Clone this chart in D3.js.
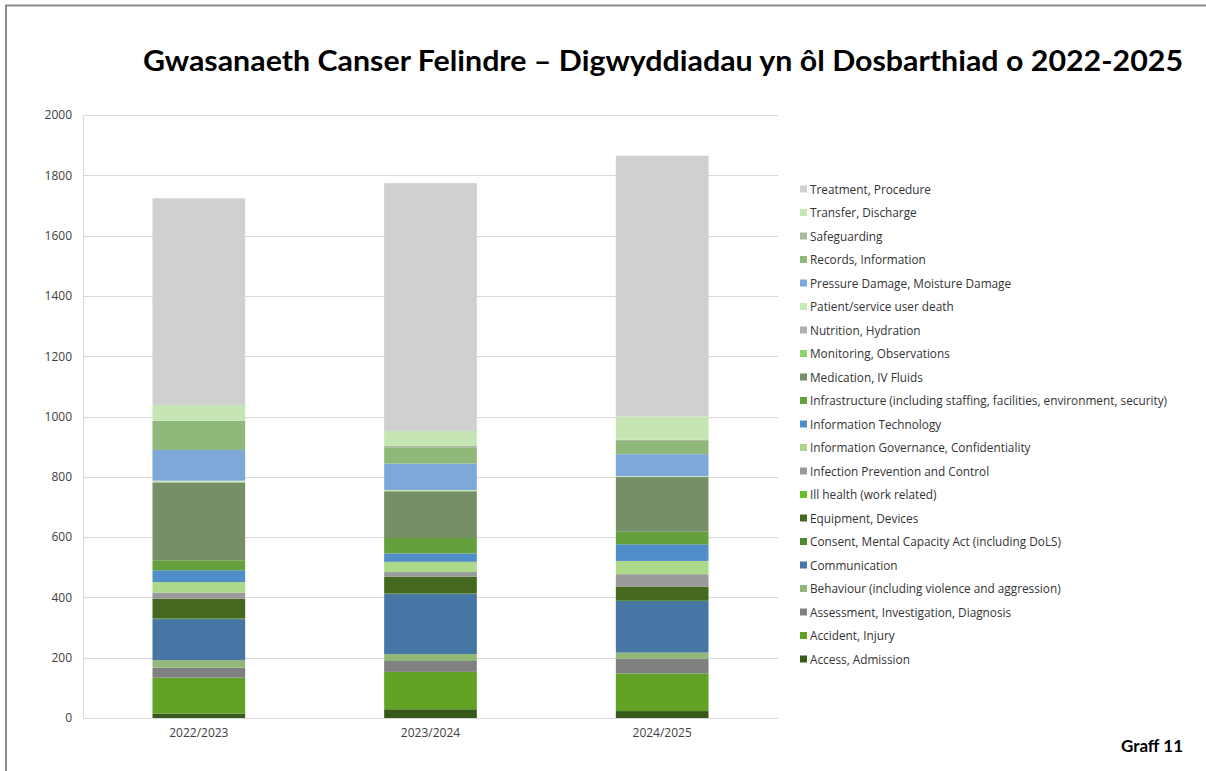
<!DOCTYPE html>
<html>
<head>
<meta charset="utf-8">
<script src="https://cdn.jsdelivr.net/npm/d3@7"></script>
<style>
  body { margin: 0; background: #fff; }
  svg { display: block; }
</style>
</head>
<body>
<div id="chart"></div>
<script>
// chart data
var years = ["2022/2023", "2023/2024", "2024/2025"];

// series, bottom of the stack first
var seriesNames = [
    "Access, Admission",
    "Accident, Injury",
    "Assessment, Investigation, Diagnosis",
    "Behaviour (including violence and aggression)",
    "Communication",
    "Consent, Mental Capacity Act (including DoLS)",
    "Equipment, Devices",
    "Ill health (work related)",
    "Infection Prevention and Control",
    "Information Governance, Confidentiality",
    "Information Technology",
    "Infrastructure (including staffing, facilities, environment, security)",
    "Medication, IV Fluids",
    "Monitoring, Observations",
    "Nutrition, Hydration",
    "Patient/service user death",
    "Pressure Damage, Moisture Damage",
    "Records, Information",
    "Safeguarding",
    "Transfer, Discharge",
    "Treatment, Procedure"
];

var seriesColors = [
    "#375a1a", "#62a224", "#808080", "#92b878", "#4676a3", "#4e8a32",
    "#44691e", "#6ac02a", "#9a9a9a", "#acd88a", "#4f8ec8", "#64a03c",
    "#768f66", "#8ed46a", "#b0b0b0", "#c6ebb6", "#7ea8d8", "#8fb87a",
    "#a9b8a0", "#c5e6b3", "#d0d0d0"
];

// values per year, same order as seriesNames
var values2022 = [15, 119, 33, 25, 136, 2, 66, 0, 20, 35, 39, 33, 258, 1, 1, 4, 102, 97, 0, 52, 686];
var values2023 = [29, 124, 36, 23, 199, 2, 56, 0, 15, 34, 28, 51, 155, 1, 0, 3, 88, 52, 6, 50, 822];
var values2024 = [23, 125, 49, 20, 171, 3, 45, 0, 41, 44, 55, 42, 181, 1, 0, 2, 73, 44, 4, 77, 865];

var yTicks = [0, 200, 400, 600, 800, 1000, 1200, 1400, 1600, 1800, 2000];

var titleText = "Gwasanaeth Canser Felindre \u2013 Digwyddiadau yn \u00f4l Dosbarthiad o 2022-2025";
var footText = "Graff 11";

var width = 1206, height = 771;
var plotLeft = 83, plotRight = 778, plotTop = 115, plotBottom = 718;

var svg = d3.select("#chart").append("svg")
    .attr("width", width)
    .attr("height", height);

// frame round the slide
svg.append("path")
    .attr("d", "M6," + height + "V5.5H" + width)
    .attr("fill", "none")
    .attr("stroke", "#8c8c8c")
    .attr("stroke-width", 2);

// title
svg.append("text")
    .attr("x", 143)
    .attr("y", 71)
    .attr("textLength", 1040)
    .attr("lengthAdjust", "spacingAndGlyphs")
    .style("font-family", "Lato, 'DejaVu Sans', sans-serif")
    .style("font-weight", "bold")
    .style("font-size", "28px")
    .style("fill", "#000")
    .text(titleText);

var xScale = d3.scaleBand()
    .domain(years)
    .range([plotLeft, plotRight])
    .paddingInner(0.6)
    .paddingOuter(0.3);

var yScale = d3.scaleLinear()
    .domain([0, 2000])
    .range([plotBottom, plotTop]);

// gridlines
svg.append("g")
    .selectAll("line")
    .data(yTicks)
    .enter()
    .append("line")
    .attr("x1", plotLeft)
    .attr("x2", plotRight)
    .attr("y1", function(d) { return Math.round(yScale(d)) + 0.5; })
    .attr("y2", function(d) { return Math.round(yScale(d)) + 0.5; })
    .attr("stroke", "#d9d9d9")
    .attr("stroke-width", 1);

svg.append("line")
    .attr("x1", plotLeft + 0.5)
    .attr("x2", plotLeft + 0.5)
    .attr("y1", plotTop)
    .attr("y2", plotBottom)
    .attr("stroke", "#d9d9d9");

// y axis labels
var yAxis = d3.axisLeft(yScale)
    .tickValues(yTicks)
    .tickFormat(d3.format("d"))
    .tickSize(0)
    .tickPadding(11);

var yAxisG = svg.append("g")
    .attr("transform", "translate(" + plotLeft + ",0)")
    .call(yAxis);
yAxisG.select(".domain").remove();
yAxisG.selectAll("text")
    .style("font-family", "'Open Sans', sans-serif")
    .style("font-size", "12px")
    .style("fill", "#404040");

// x axis labels
var xAxis = d3.axisBottom(xScale).tickSize(0).tickPadding(10);
var xAxisG = svg.append("g")
    .attr("transform", "translate(0," + plotBottom + ")")
    .call(xAxis);
xAxisG.select(".domain").remove();
xAxisG.selectAll("text")
    .style("font-family", "'Open Sans', sans-serif")
    .style("font-size", "12px")
    .style("fill", "#404040");

// build rows for the stack
var allValues = [values2022, values2023, values2024];
var rows = years.map(function(y, i) {
    var row = { year: y };
    seriesNames.forEach(function(s, j) {
        row[s] = allValues[i][j];
    });
    return row;
});

var stack = d3.stack().keys(seriesNames);
var layers = stack(rows);

svg.append("g")
    .selectAll("g")
    .data(layers)
    .enter()
    .append("g")
    .style("fill", function(d, i) { return seriesColors[i]; })
    .selectAll("rect")
    .data(function(d) { return d; })
    .enter()
    .append("rect")
    .attr("x", function(d) { return xScale(d.data.year); })
    .attr("y", function(d) { return yScale(d[1]); })
    .attr("width", xScale.bandwidth())
    .attr("height", function(d) { return yScale(d[0]) - yScale(d[1]); });

// legend, top entry is the last series
var legendNames = seriesNames.slice().reverse();
var legendColors = seriesColors.slice().reverse();
var legend = svg.append("g")
    .selectAll("g")
    .data(legendNames)
    .enter()
    .append("g")
    .attr("transform", function(d, i) {
        return "translate(800," + (189.5 + i * 23.5) + ")";
    });

legend.append("rect")
    .attr("x", 0)
    .attr("y", -4)
    .attr("width", 7)
    .attr("height", 7)
    .style("fill", function(d, i) { return legendColors[i]; });

legend.append("text")
    .attr("x", 10)
    .attr("y", 0)
    .attr("dy", "0.35em")
    .style("font-family", "'Open Sans', sans-serif")
    .style("font-size", "11.8px")
    .style("fill", "#333")
    .text(function(d) { return d; });

// footer label
svg.append("text")
    .attr("x", 1183)
    .attr("y", 752)
    .attr("text-anchor", "end")
    .style("font-family", "Lato, 'DejaVu Sans', sans-serif")
    .style("font-weight", "bold")
    .style("font-size", "17px")
    .style("fill", "#000")
    .text(footText);
</script>
</body>
</html>
